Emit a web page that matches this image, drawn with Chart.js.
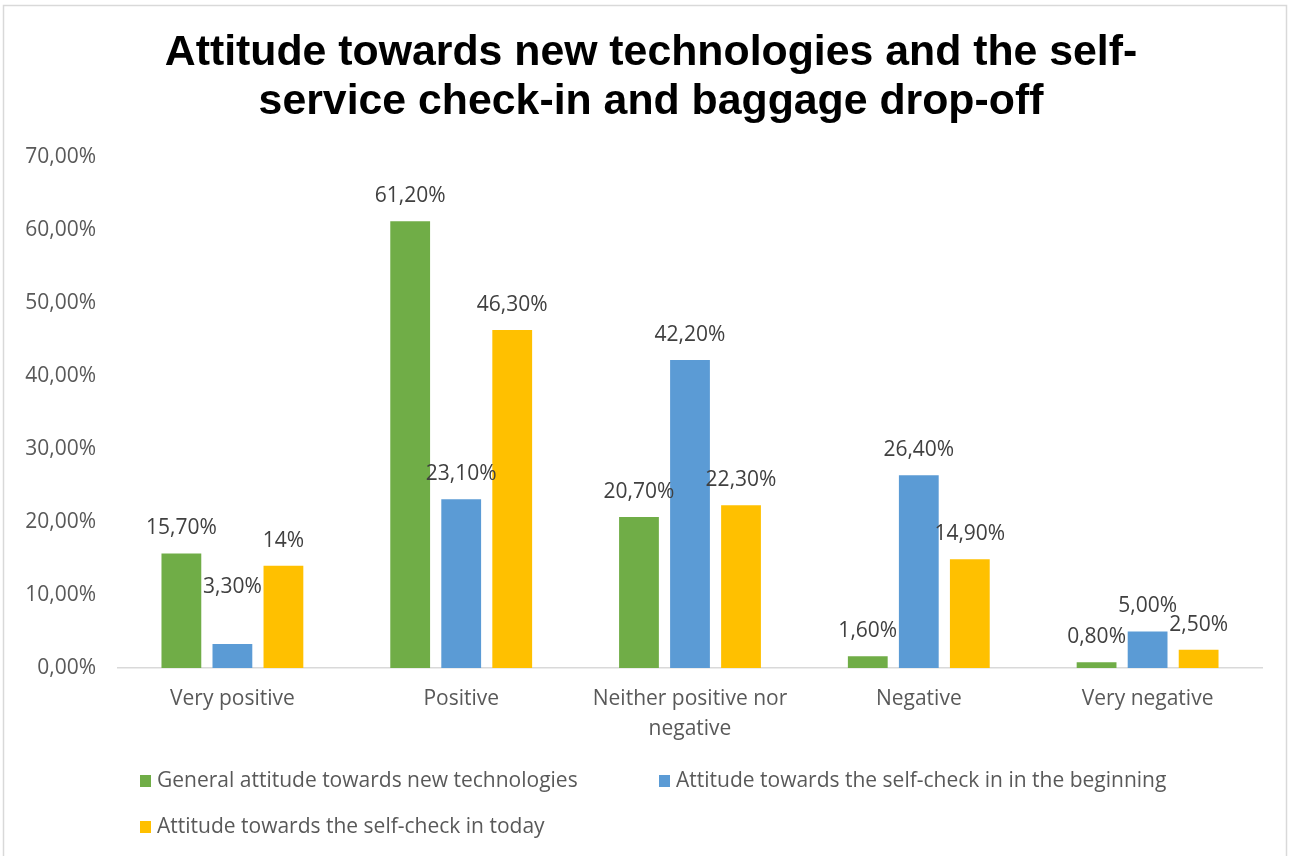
<!DOCTYPE html>
<html>
<head>
<meta charset="utf-8">
<script src="https://cdn.jsdelivr.net/npm/chart.js@4.4.1/dist/chart.umd.min.js"></script>
<style>
  html, body { margin: 0; padding: 0; background: #fff; }
  #wrap { width: 1290px; height: 856px; }
</style>
</head>
<body>
<div id="wrap"><canvas id="grafica" width="1290" height="856"></canvas></div>
<script>
// Datos
const titulo = ['Attitude towards new technologies and the self-', 'service check-in and baggage drop-off'];
const categorias = ['Very positive', 'Positive', ['Neither positive nor', 'negative'], 'Negative', 'Very negative'];
const nombresSeries = [
    'General attitude towards new technologies',
    'Attitude towards the self-check in in the beginning',
    'Attitude towards the self-check in today'
];
const etiquetasGeneral = ['15,70%', '61,20%', '20,70%', '1,60%', '0,80%'];
const etiquetasInicio = ['3,30%', '23,10%', '42,20%', '26,40%', '5,00%'];
const etiquetasHoy = ['14%', '46,30%', '22,30%', '14,90%', '2,50%'];
const ticksY = [0, 10, 20, 30, 40, 50, 60, 70];
const colores = ['#70AD47', '#5B9BD5', '#FFC000'];

const aNumero = s => parseFloat(s.replace(',', '.').replace('%', ''));
const etiquetas = [etiquetasGeneral, etiquetasInicio, etiquetasHoy];

const fuente = '"Open Sans", "Noto Sans", sans-serif';
const tam = 21;

// Fondo, marco gris y título
const marco = {
    id: 'marco',
    beforeDraw(chart, args, opts) {
        const ctx = chart.ctx;
        ctx.save();
        ctx.fillStyle = '#fff';
        ctx.fillRect(0, 0, chart.width, chart.height);
        ctx.strokeStyle = '#d9d9d9';
        ctx.lineWidth = 1.5;
        ctx.strokeRect(3.5, 5.5, chart.width - 7, chart.height + 10);

        ctx.fillStyle = '#000';
        ctx.font = 'bold 42.8px "Liberation Sans", Arial, sans-serif';
        ctx.textAlign = 'center';
        ctx.textBaseline = 'middle';
        titulo.forEach((linea, i) => ctx.fillText(linea, opts.xTitulo, opts.yTitulo + i * opts.altoLinea));
        ctx.restore();
    }
};

// Etiquetas de valor encima de cada barra
const etiquetasValor = {
    id: 'etiquetasValor',
    afterDatasetsDraw(chart, args, opts) {
        const ctx = chart.ctx;
        ctx.save();
        ctx.font = tam + 'px ' + fuente;
        ctx.fillStyle = '#404040';
        ctx.textAlign = 'center';
        ctx.textBaseline = 'middle';
        chart.data.datasets.forEach((ds, i) => {
            chart.getDatasetMeta(i).data.forEach((bar, j) => {
                let extra = 0;
                (opts.desplazar || []).forEach(d => {
                    if (d.serie === i && d.indice === j) extra = d.px;
                });
                ctx.fillText(etiquetas[i][j], bar.x, bar.y - 25 - extra);
            });
        });
        ctx.restore();
    }
};

// Leyenda propia en dos columnas
const leyenda = {
    id: 'leyenda',
    afterDraw(chart, args, opts) {
        const ctx = chart.ctx;
        ctx.save();
        ctx.font = tam + 'px ' + fuente;
        ctx.textBaseline = 'middle';
        ctx.textAlign = 'left';
        chart.data.datasets.forEach((ds, i) => {
            const p = opts.posiciones[i];
            ctx.fillStyle = ds.backgroundColor;
            ctx.fillRect(p.x, p.y - 6, 11, 12);
            ctx.fillStyle = '#595959';
            ctx.fillText(ds.label, p.x + 17, p.y);
        });
        ctx.restore();
    }
};

const ctx = document.getElementById('grafica').getContext('2d');
new Chart(ctx, {
    type: 'bar',
    data: {
        labels: categorias,
        datasets: etiquetas.map((serie, i) => ({
            label: nombresSeries[i],
            data: serie.map(aNumero),
            backgroundColor: colores[i],
            categoryPercentage: 0.669,
            barPercentage: 0.78
        }))
    },
    options: {
        responsive: false,
        animation: false,
        devicePixelRatio: 1,
        layout: { padding: { left: 0, right: 28, top: 157, bottom: 96 } },
        plugins: {
            legend: { display: false },
            tooltip: { enabled: false },
            title: { display: false },
            marco: { xTitulo: 651, yTitulo: 53, altoLinea: 49.5 },
            etiquetasValor: { desplazar: [{ serie: 1, indice: 0, px: 32 }] },
            leyenda: {
                posiciones: [
                    { x: 140, y: 781 },
                    { x: 659, y: 781 },
                    { x: 140, y: 827 }
                ]
            }
        },
        scales: {
            x: {
                grid: { display: false, drawTicks: false },
                border: { display: true, color: '#d9d9d9', width: 1.5 },
                ticks: {
                    color: '#595959',
                    font: { family: fuente, size: tam, lineHeight: 1.43 },
                    padding: 16,
                    maxRotation: 0,
                    autoSkip: false
                },
                afterFit: s => { s.height = 92; }
            },
            y: {
                min: 0,
                max: 70,
                afterBuildTicks: s => { s.ticks = ticksY.map(v => ({ value: v })); },
                grid: { display: false, drawTicks: false },
                border: { display: false },
                ticks: {
                    color: '#595959',
                    font: { family: fuente, size: tam },
                    padding: 22,
                    callback: v => v.toFixed(2).replace('.', ',') + '%'
                },
                afterFit: s => { s.width = 118; }
            }
        }
    },
    plugins: [marco, etiquetasValor, leyenda]
});
</script>
</body>
</html>
